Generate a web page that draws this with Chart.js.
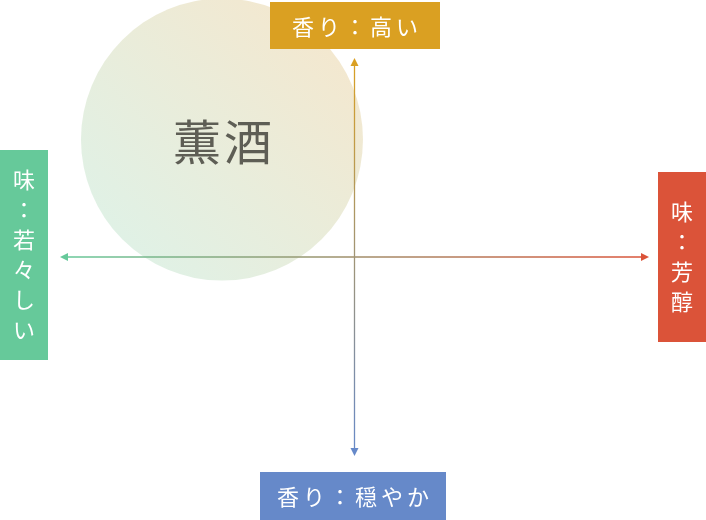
<!DOCTYPE html>
<html lang="ja">
<head>
<meta charset="utf-8">
<script src="https://cdn.jsdelivr.net/npm/chart.js@4.4.1/dist/chart.umd.min.js"></script>
<style>
  html, body { margin: 0; padding: 0; background: #fff; }
  #wrap { width: 706px; height: 520px; position: relative; }
</style>
</head>
<body>
<div id="wrap"><canvas id="sakeChart"></canvas></div>
<script>
// sake type placed on the map (x: taste, y: aroma)
const categories = ['薫酒'];
const tasteValues = [-0.45];
const aromaValues = [0.59];
// axis end labels: [negative end, positive end]
const tasteLabels = ['味：若々しい', '味：芳醇'];
const aromaLabels = ['香り：穏やか', '香り：高い'];
const axisTicks = [-1, 0, 1];

const FONT = '"Noto Sans CJK JP", "Noto Sans", sans-serif';
const GREEN = '#66c99a', RED = '#db5339', GOLD = '#daa022', BLUE = '#6689c9';
const BUBBLE_R = 141;

function arrowHead(ctx, x, y, dir, color) {
    ctx.save();
    ctx.fillStyle = color;
    ctx.translate(x, y);
    ctx.rotate(dir);
    ctx.beginPath();
    ctx.moveTo(0, 0);
    ctx.lineTo(-8, -4);
    ctx.lineTo(-8, 4);
    ctx.closePath();
    ctx.fill();
    ctx.restore();
}

function labelBox(ctx, x, y, w, h, color, text, vertical) {
    ctx.save();
    ctx.fillStyle = color;
    ctx.fillRect(x, y, w, h);
    ctx.fillStyle = '#fff';
    ctx.font = '22px ' + FONT;
    ctx.textAlign = 'center';
    ctx.textBaseline = 'middle';
    if (vertical) {
        const chars = Array.from(text);
        const step = 30;
        const y0 = y + h / 2 - step * (chars.length - 1) / 2;
        chars.forEach((c, i) => ctx.fillText(c, x + w / 2, y0 + i * step));
    } else {
        ctx.letterSpacing = '4px';
        ctx.fillText(text, x + w / 2 + 2, y + h / 2 + 1);
    }
    ctx.restore();
}

const axesPlugin = {
    id: 'crossAxes',
    afterDatasetsDraw(chart) {
        const ctx = chart.ctx;
        const xs = chart.scales.x, ys = chart.scales.y;
        const x0 = xs.getPixelForValue(axisTicks[0]), x1 = xs.getPixelForValue(axisTicks[2]);
        const y0 = ys.getPixelForValue(axisTicks[2]), y1 = ys.getPixelForValue(axisTicks[0]);
        const cx = xs.getPixelForValue(axisTicks[1]), cy = ys.getPixelForValue(axisTicks[1]);

        ctx.save();
        ctx.lineWidth = 1.3;
        let g = ctx.createLinearGradient(x0, 0, x1, 0);
        g.addColorStop(0, GREEN);
        g.addColorStop(1, RED);
        ctx.strokeStyle = g;
        ctx.beginPath();
        ctx.moveTo(x0 + 4, cy);
        ctx.lineTo(x1 - 4, cy);
        ctx.stroke();
        arrowHead(ctx, x0, cy, Math.PI, GREEN);
        arrowHead(ctx, x1, cy, 0, RED);

        g = ctx.createLinearGradient(0, y0, 0, y1);
        g.addColorStop(0, GOLD);
        g.addColorStop(1, BLUE);
        ctx.strokeStyle = g;
        ctx.beginPath();
        ctx.moveTo(cx, y0 + 4);
        ctx.lineTo(cx, y1 - 4);
        ctx.stroke();
        arrowHead(ctx, cx, y0, -Math.PI / 2, GOLD);
        arrowHead(ctx, cx, y1, Math.PI / 2, BLUE);
        ctx.restore();

        labelBox(ctx, 270, 2, 170, 47, GOLD, aromaLabels[1], false);
        labelBox(ctx, 260, 472, 186, 48, BLUE, aromaLabels[0], false);
        labelBox(ctx, 0, 150, 48, 210, GREEN, tasteLabels[0], true);
        labelBox(ctx, 658, 172, 48, 170, RED, tasteLabels[1], true);
    },
    afterDraw(chart) {
        const ctx = chart.ctx;
        const meta = chart.getDatasetMeta(0);
        meta.data.forEach((pt, i) => {
            ctx.save();
            ctx.fillStyle = '#5e5e55';
            ctx.font = '48px ' + FONT;
            ctx.textAlign = 'center';
            ctx.textBaseline = 'middle';
            ctx.letterSpacing = '3px';
            ctx.fillText(categories[i], pt.x + 2, pt.y + 2);
            ctx.restore();
        });
    }
};

new Chart(document.getElementById('sakeChart'), {
    type: 'bubble',
    data: {
        labels: categories,
        datasets: [{
            data: categories.map((c, i) => ({ x: tasteValues[i], y: aromaValues[i] })),
            radius: BUBBLE_R,
            borderWidth: 0,
            hoverRadius: 0,
            clip: false,
            backgroundColor: function (context) {
                const chart = context.chart;
                if (context.type !== 'data' || !chart.chartArea) return '#e9efdc';
                const px = chart.scales.x.getPixelForValue(context.raw.x);
                const py = chart.scales.y.getPixelForValue(context.raw.y);
                const g = chart.ctx.createLinearGradient(px - BUBBLE_R, py + BUBBLE_R, px + BUBBLE_R, py - BUBBLE_R);
                g.addColorStop(0, '#dcf3ea');
                g.addColorStop(1, '#f7e6cb');
                return g;
            }
        }]
    },
    options: {
        responsive: true,
        maintainAspectRatio: false,
        animation: false,
        layout: { autoPadding: false, padding: { left: 60, right: 57, top: 58, bottom: 64 } },
        scales: {
            x: { type: 'linear', min: -1, max: 1, display: false },
            y: { type: 'linear', min: -1, max: 1, display: false }
        },
        plugins: {
            legend: { display: false },
            tooltip: { enabled: false }
        }
    },
    plugins: [axesPlugin]
});
</script>
</body>
</html>
